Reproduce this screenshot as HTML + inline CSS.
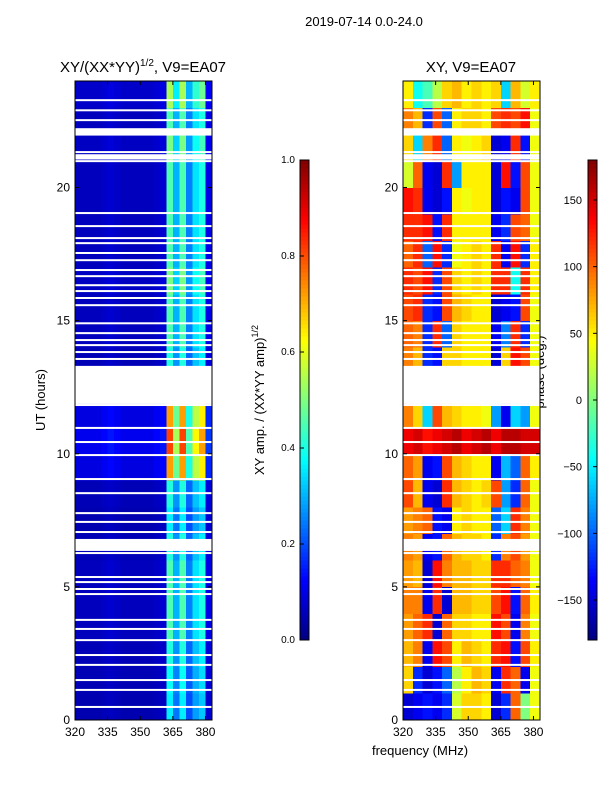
<!DOCTYPE html>
<html><head><meta charset="utf-8"><style>
body{margin:0;background:#fff;}
svg text{font-family:"Liberation Sans",sans-serif;fill:#000;}
</style></head><body>
<svg id="fig" width="600" height="800" xmlns="http://www.w3.org/2000/svg">
<rect width="600" height="800" fill="#fff"/>
<text x="364" y="26" font-size="13" text-anchor="middle">2019-07-14 0.0-24.0</text>
<text x="143" y="72" font-size="15" text-anchor="middle">XY/(XX*YY)<tspan font-size="10" dy="-6">1/2</tspan><tspan dy="6">, V9=EA07</tspan></text>
<text x="471" y="72" font-size="15" text-anchor="middle">XY, V9=EA07</text>
<text transform="translate(45,400) rotate(-90)" font-size="13" text-anchor="middle">UT (hours)</text>
<text x="420" y="755" font-size="13" text-anchor="middle">frequency (MHz)</text>
<text transform="translate(264,400) rotate(-90)" font-size="13" text-anchor="middle">XY amp. / (XX*YY amp)<tspan font-size="9" dy="-6">1/2</tspan></text>
<text transform="translate(544,372) rotate(-90)" font-size="13" text-anchor="middle">phase (deg.)</text>
<g id="amp"></g><g id="ph"></g><g id="cb"></g><g id="ax"></g>
</svg>
<script>
const hours = [0,1,2,3,4,5,6,7,8,9,10,11,12,13,14,15,16,17,18,19,20,21,22,23];
const phaseFreqEdges = [320,324.5,329,333.5,338,342.5,347,351.5,356,360.5,365,369.5,374,378.5,383];
const phaseRows = [
[-150,-140,-130,-140,-120,30,60,60,50,-150,-120,100,0,40],
[60,-120,-150,-130,-100,20,50,70,60,-140,120,100,-140,40],
[70,90,-140,130,110,50,70,60,50,120,130,-130,110,50],
[80,100,120,-150,100,60,60,50,50,130,110,-140,90,40],
[90,90,-140,120,-150,70,70,60,60,110,130,-130,100,50],
[80,70,-150,130,90,70,70,60,60,120,120,100,90,40],
[90,80,-140,-130,100,70,60,60,50,-120,90,110,80,40],
[80,90,100,-130,-140,50,60,50,50,-100,-60,120,90,40],
[110,70,-140,-150,120,70,60,50,60,110,-80,-120,100,40],
[100,80,-140,-130,110,70,60,50,50,-140,-70,-100,100,50],
[140,150,130,140,150,160,140,150,160,140,160,160,150,150],
[90,60,-60,110,70,60,50,50,40,-80,-140,-60,-80,40],
[80,70,60,60,60,60,60,60,60,60,60,60,60,60],
[90,70,-120,-130,60,60,50,50,50,-150,60,130,110,40],
[100,90,-120,120,-100,60,50,50,50,-140,-90,120,-120,40],
[110,120,-120,-130,110,70,60,50,50,-150,-140,-130,110,40],
[120,110,130,-120,110,60,50,60,50,120,120,-40,120,50],
[100,120,-100,130,-120,40,50,60,50,120,-140,130,-120,50],
[120,120,130,-130,120,50,50,50,50,-140,-120,110,100,40],
[130,120,-140,-150,-130,50,40,50,50,-150,-130,-140,110,40],
[30,100,-140,-150,120,-80,50,50,50,-150,130,-130,110,40],
[60,-60,90,120,-100,50,40,50,60,-150,-140,120,-130,40],
[90,70,-120,110,-100,50,60,60,50,110,120,110,130,40],
[50,-40,-20,20,60,70,50,60,50,60,-60,70,30,50]];
const ampFreqEdges = [320,323,326,329,332,335,338,341,344,347,350,353,356,359,362,365,368,371,374,377,380,383];
const ampCol = [0.06,0.06,0.06,0.06,0.07,0.08,0.07,0.06,0.06,0.06,0.06,0.06,0.07,0.08,0.45,0.3,0.45,0.25,0.35,0.4,0.1];
const ampRow = [0.8,0.85,0.9,1.0,1.0,1.0,0.9,0.8,0.9,1.6,1.8,1.6,1.0,0.9,1.0,1.0,1.1,1.0,1.0,1.0,1.0,1.1,1.0,1.2];
const gapsBig = [[11.87,13.3],[6.35,6.8],[21.95,22.2],[21.05,21.25]];
const gapsThin = [23.28,22.9,22.53,22.19,21.33,20.99,19.04,18.55,18.1,17.91,17.54,17.27,16.9,16.67,16.33,16.11,15.85,15.58,14.9,14.53,14.27,14.08,13.82,13.56,11.83,10.97,10.44,9.95,9.05,8.52,7.77,7.44,7.06,6.27,5.37,5.18,4.92,4.73,3.76,3.42,3.0,2.44,2.07,1.5,1.13,0.49];
const yTicks = [0,5,10,15,20];
const xTicks = [320,335,350,365,380];
const ampTicks = [0.0,0.2,0.4,0.6,0.8,1.0];
const phaseTicks = [150,100,50,0,-50,-100,-150];

const NS='http://www.w3.org/2000/svg';
function mk(tag,attrs,parent){const e=document.createElementNS(NS,tag);for(const k in attrs)e.setAttribute(k,attrs[k]);parent.appendChild(e);return e;}
const Y0=720,Y1=81; const yScale=h=>Y0-(h/24)*(Y0-Y1);
const LX=75,RX=403,PW=137; const xScale=(f,x0)=>x0+(f-320)/(383-320)*PW;
function jet(v){v=Math.max(0,Math.min(1,v));
 const r=Math.max(0,Math.min(1,Math.min(4*v-1.5,-4*v+4.5)));
 const g=Math.max(0,Math.min(1,Math.min(4*v-0.5,-4*v+3.5)));
 const b=Math.max(0,Math.min(1,Math.min(4*v+0.5,-4*v+2.5)));
 return `rgb(${Math.round(r*255)},${Math.round(g*255)},${Math.round(b*255)})`;}
const ampG=document.getElementById('amp'),phG=document.getElementById('ph'),cbG=document.getElementById('cb'),axG=document.getElementById('ax');
hours.forEach((h,r)=>{
 ampCol.forEach((a,c)=>{
  const el=mk('rect',{x:xScale(ampFreqEdges[c],LX),y:yScale(h+1),width:xScale(ampFreqEdges[c+1],LX)-xScale(ampFreqEdges[c],LX)+0.3,height:yScale(h)-yScale(h+1)+0.3,fill:jet(a*ampRow[r]),'shape-rendering':'crispEdges'},ampG);
  
  
 });
 phaseRows[r].forEach((p,c)=>{
  const el=mk('rect',{x:xScale(phaseFreqEdges[c],RX),y:yScale(h+1),width:xScale(phaseFreqEdges[c+1],RX)-xScale(phaseFreqEdges[c],RX)+0.3,height:yScale(h)-yScale(h+1)+0.3,fill:jet((p+180)/360),'shape-rendering':'crispEdges'},phG);
  
  
 });
});
[LX,RX].forEach(x0=>{
 gapsBig.forEach(g=>{const el=mk('rect',{x:x0,y:yScale(g[1]),width:PW,height:yScale(g[0])-yScale(g[1]),fill:'#fff'},axG);
  
  });
 gapsThin.forEach(h=>{const el=mk('rect',{x:x0,y:yScale(h)-1,width:PW,height:2,fill:'#fff'},axG);
  
  });
 const fr=mk('rect',{x:x0,y:Y1,width:PW,height:Y0-Y1,fill:'none',stroke:'#000','stroke-width':1},axG);
 
 
 yTicks.forEach(t=>{const y=yScale(t);
  mk('line',{x1:x0,x2:x0+4,y1:y,y2:y,stroke:'#000'},axG);mk('line',{x1:x0+PW,x2:x0+PW-4,y1:y,y2:y,stroke:'#000'},axG);
  const tl=mk('text',{x:x0-5,y:y+4,'font-size':12,'text-anchor':'end'},axG);tl.textContent=t;
  
  });
 xTicks.forEach(t=>{const x=xScale(t,x0);
  mk('line',{x1:x,x2:x,y1:Y0,y2:Y0-4,stroke:'#000'},axG);mk('line',{x1:x,x2:x,y1:Y1,y2:Y1+4,stroke:'#000'},axG);
  const tl=mk('text',{x:x,y:Y0+16,'font-size':12,'text-anchor':'middle'},axG);tl.textContent=t;
  
  });
});
[[300,'amp-colorbar'],[588,'phase-colorbar']].forEach(([cx,nm])=>{
 for(let i=0;i<120;i++){mk('rect',{x:cx,y:640-(i+1)*4,width:9,height:4.3,fill:jet((i+0.5)/120),'shape-rendering':'crispEdges'},cbG);}
 const f=mk('rect',{x:cx,y:160,width:9,height:480,fill:'none',stroke:'#000'},cbG);
 
 
});
ampTicks.forEach(t=>{const y=640-t*480;mk('line',{x1:300,x2:304,y1:y,y2:y,stroke:'#000'},cbG);
 const tl=mk('text',{x:295,y:y+3,'font-size':10,'text-anchor':'end'},cbG);tl.textContent=t.toFixed(1);
 
 });
phaseTicks.forEach(t=>{const y=400-t*480/360;mk('line',{x1:593,x2:597,y1:y,y2:y,stroke:'#000'},cbG);
 const tl=mk('text',{x:582,y:y+4,'font-size':11,'text-anchor':'end'},cbG);tl.textContent=t<0?'\u2212'+(-t):t;
 
 });
</script>
</body></html>
